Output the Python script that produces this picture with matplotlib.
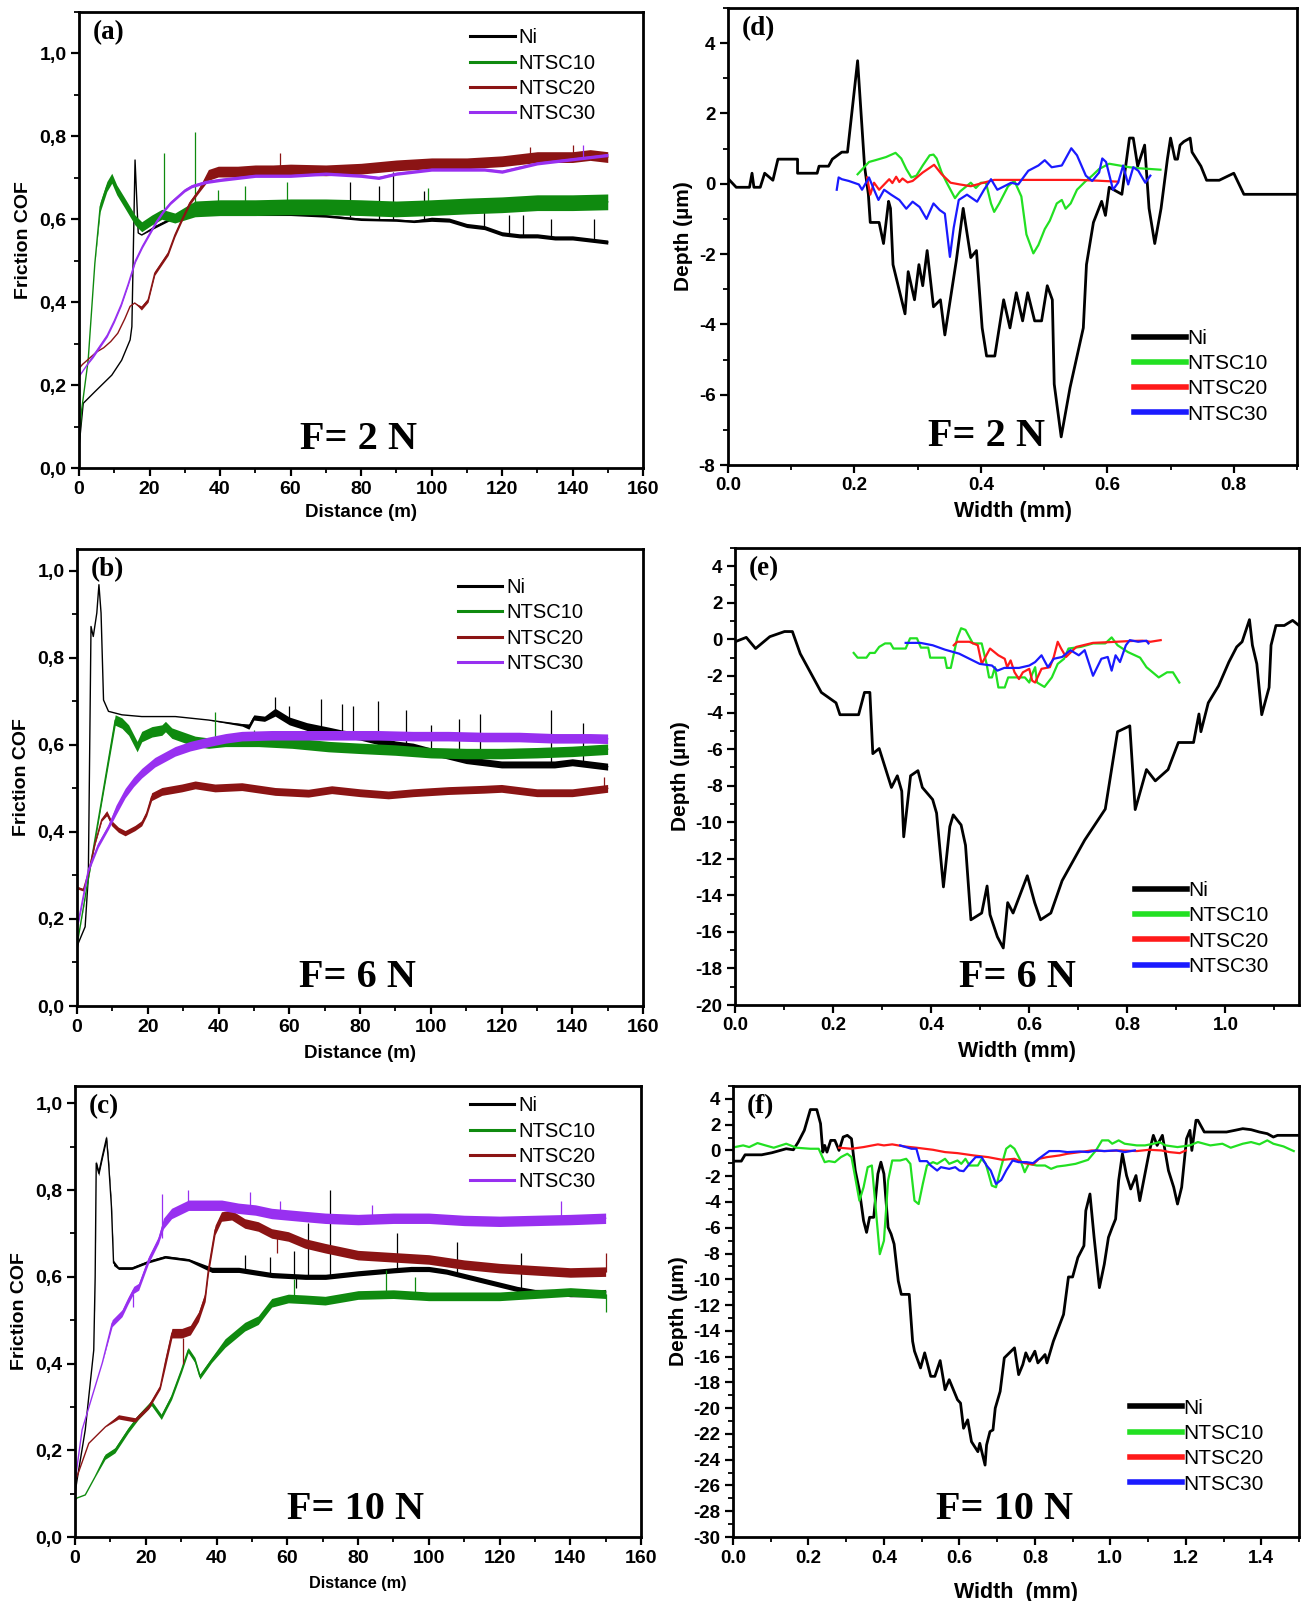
import numpy as np
import matplotlib
matplotlib.use("Agg")
import matplotlib.pyplot as plt
from matplotlib.ticker import MultipleLocator, FuncFormatter
from matplotlib.lines import Line2D

# ---------------------------------------------------------------- data
LABELS = ["Ni", "NTSC10", "NTSC20", "NTSC30"]

# ---- panel (a)  F = 2 N   (distance m, COF)
a_ni_x = [0, 1.2, 4.5, 9.3, 12.1, 14.5, 15.0, 15.9, 16.8, 17.8, 21.6, 27.2, 32.9, 40, 50, 60, 70, 80, 90, 95,
          100, 105, 110, 115, 120, 125, 130, 135, 140, 145, 150]
a_ni_y = [0.05, 0.156, 0.184, 0.224, 0.26, 0.309, 0.341, 0.743, 0.567, 0.562, 0.582, 0.606, 0.612, 0.612, 0.612,
          0.612, 0.608, 0.6, 0.598, 0.595, 0.6, 0.598, 0.585, 0.58, 0.565, 0.56, 0.56, 0.555, 0.555, 0.55, 0.545]
a_ni_noise = [(0, 0.0), (20, 0.003), (100, 0.005)]
a_ni_spk = ([47, 77, 85, 89, 98, 115, 122, 126, 134, 146],
            [0.612, 0.605, 0.6, 0.6, 0.6, 0.58, 0.565, 0.56, 0.558, 0.552],
            [0.645, 0.69, 0.68, 0.715, 0.668, 0.62, 0.61, 0.61, 0.6, 0.6])

a_10_x = [0, 0.75, 2.6, 4.5, 6, 7.9, 9.3, 10.7, 13, 15.9, 17.8, 20.6, 23.5, 27.2, 32.9, 40, 50, 60, 70, 80,
          90, 100, 110, 120, 130, 140, 150]
a_10_y = [0.06, 0.14, 0.26, 0.494, 0.63, 0.679, 0.699, 0.671, 0.639, 0.598, 0.582, 0.598, 0.612, 0.603, 0.625,
          0.628, 0.628, 0.63, 0.63, 0.628, 0.625, 0.628, 0.632, 0.635, 0.64, 0.64, 0.642]
a_10_noise = [(0, 0.0), (6, 0.012), (30, 0.019)]
a_10_spk = ([24, 33, 39.5, 47, 59, 99],
            [0.61, 0.62, 0.628, 0.628, 0.63, 0.63],
            [0.76, 0.81, 0.67, 0.68, 0.69, 0.675])

a_20_x = [0, 1, 3, 5, 7, 9, 11, 13, 14.5, 15.8, 17.7, 19.6, 21.5, 23.4, 25.3, 27.2, 29.1, 31.4, 33.8, 36.7,
          39.5, 45, 50, 55, 60, 70, 80, 90, 100, 110, 120, 130, 140, 145, 150]
a_20_y = [0.24, 0.25, 0.265, 0.28, 0.29, 0.305, 0.325, 0.36, 0.39, 0.398, 0.386, 0.405, 0.47, 0.494, 0.518,
          0.562, 0.598, 0.639, 0.667, 0.707, 0.715, 0.715, 0.718, 0.718, 0.72, 0.718, 0.722, 0.73, 0.735, 0.735,
          0.74, 0.75, 0.75, 0.755, 0.75]
a_20_noise = [(0, 0.0), (16, 0.005), (36, 0.013)]
a_20_spk = ([57, 128, 140], [0.72, 0.745, 0.75], [0.76, 0.775, 0.78])

a_30_x = [0, 2, 4, 6, 8, 10, 12, 14, 16, 18, 20, 22, 24, 26, 28, 30, 32, 34, 36, 40,
          45, 50, 60, 70, 80, 85, 90, 95, 100, 110, 115, 120, 125, 130, 135, 140, 145, 150]
a_30_y = [0.22, 0.245, 0.27, 0.295, 0.32, 0.355, 0.395, 0.445, 0.5, 0.535, 0.565, 0.595, 0.62, 0.64, 0.655,
          0.67, 0.68, 0.685, 0.69, 0.695, 0.7, 0.705, 0.705, 0.71, 0.705, 0.7, 0.71, 0.715, 0.72, 0.72,
          0.72, 0.715, 0.725, 0.735, 0.74, 0.745, 0.75, 0.755]
a_30_noise = [(0, 0.0), (4, 0.004)]
a_30_spk = ([143], [0.745], [0.78])

# ---- panel (b)  F = 6 N
b_ni_x = [0, 0.4, 2.3, 3.2, 3.96, 4.6, 5.6, 6.2, 6.8, 7.5, 8.9, 12.7, 18.3, 27.8, 37.2, 46.7, 48.6, 50, 53, 56,
          60, 65, 71, 75, 80, 85, 90, 95, 100, 105, 110, 115, 120, 125, 130, 135, 140, 145, 150]
b_ni_y = [0.13, 0.145, 0.182, 0.297, 0.872, 0.849, 0.903, 0.968, 0.903, 0.703, 0.677, 0.669, 0.665, 0.665, 0.657,
          0.646, 0.642, 0.663, 0.66, 0.675, 0.655, 0.642, 0.632, 0.625, 0.62, 0.61, 0.6, 0.595, 0.585, 0.575,
          0.565, 0.56, 0.555, 0.555, 0.555, 0.555, 0.56, 0.555, 0.55]
b_ni_noise = [(0, 0.0), (40, 0.003), (48, 0.006), (55, 0.009), (100, 0.008)]
b_ni_spk = ([56, 60, 69, 75, 78, 85, 93, 100, 108, 114, 134, 143],
            [0.67, 0.65, 0.63, 0.62, 0.62, 0.6, 0.6, 0.585, 0.57, 0.56, 0.555, 0.56],
            [0.71, 0.69, 0.705, 0.695, 0.69, 0.7, 0.68, 0.645, 0.66, 0.67, 0.68, 0.65])

b_10_x = [0, 0.4, 10.8, 12.7, 14.6, 17, 18.3, 21.2, 24, 25, 26.8, 30.6, 33.4, 37.2, 41.9, 51.3, 60.8, 71.1, 80,
          90, 100, 110, 120, 130, 140, 150]
b_10_y = [0.14, 0.159, 0.657, 0.65, 0.634, 0.596, 0.619, 0.63, 0.634, 0.642, 0.627, 0.616, 0.608, 0.604, 0.608,
          0.608, 0.604, 0.596, 0.592, 0.588, 0.582, 0.58, 0.58, 0.582, 0.585, 0.59]
b_10_noise = [(0, 0.0), (10.8, 0.012)]
b_10_spk = ([39, 50], [0.604, 0.608], [0.675, 0.635])

b_20_x = [0, 0.4, 1.8, 3.2, 5.1, 7, 8.4, 9.8, 11.7, 13.6, 16.4, 18.3, 19.7, 21.1, 24, 29.6, 33.4, 39, 46.6, 56,
          65.4, 72, 80, 88, 95, 105, 115, 120, 130, 140, 150]
b_20_y = [0.27, 0.271, 0.267, 0.305, 0.374, 0.428, 0.443, 0.42, 0.405, 0.397, 0.409, 0.42, 0.443, 0.481, 0.493,
          0.501, 0.508, 0.501, 0.504, 0.493, 0.489, 0.497, 0.49, 0.485, 0.49, 0.495, 0.498, 0.5, 0.49, 0.49, 0.5]
b_20_noise = [(0, 0.003), (8, 0.006), (20, 0.009)]
b_20_spk = ([149], [0.5], [0.525])

b_30_x = [0, 1, 3.2, 6, 8.9, 11, 13.6, 16, 18.3, 22, 27.7, 32, 37.2, 42, 46.6, 55, 65, 75, 85, 95,
          105, 115, 125, 135, 145, 150]
b_30_y = [0.18, 0.22, 0.313, 0.37, 0.412, 0.45, 0.489, 0.515, 0.535, 0.56, 0.585, 0.597, 0.607, 0.615, 0.62,
          0.622, 0.622, 0.622, 0.622, 0.62, 0.62, 0.618, 0.618, 0.615, 0.615, 0.614]
b_30_noise = [(0, 0.006), (10, 0.011)]
b_30_spk = ([], [], [])

# ---- panel (c)  F = 10 N
c_ni_x = [0, 0.57, 2.9, 5.3, 5.7, 6.0, 6.7, 7.7, 8.9, 9.5, 10.3, 10.9, 12.3, 16.1, 20.8, 25.5, 32.1, 38.7, 46.3,
          55.7, 65.1, 70.8, 80, 90, 95, 100, 105, 110, 115, 120, 125, 130, 135, 140, 145, 150]
c_ni_y = [0.1, 0.131, 0.247, 0.431, 0.6, 0.862, 0.839, 0.877, 0.92, 0.862, 0.762, 0.632, 0.62, 0.62, 0.635,
          0.646, 0.639, 0.616, 0.616, 0.604, 0.6, 0.6, 0.608, 0.615, 0.618, 0.618, 0.612, 0.602, 0.592, 0.582,
          0.572, 0.565, 0.565, 0.56, 0.56, 0.565]
c_ni_noise = [(0, 0.0), (5.7, 0.006), (11, 0.003), (35, 0.006)]
c_ni_spk = ([48, 55, 62, 62.5, 66, 72, 91, 108, 126],
            [0.618, 0.605, 0.6, 0.6, 0.6, 0.6, 0.615, 0.605, 0.575],
            [0.65, 0.645, 0.66, 0.575, 0.725, 0.8, 0.7, 0.68, 0.655])

c_10_x = [0, 0.6, 2.9, 5.7, 8.5, 11.3, 15.1, 17.9, 21.6, 24.4, 27.3, 30.1, 32, 33.9, 35.3, 38.6, 42.4, 48, 51.8,
          55.6, 60.3, 65, 70.7, 80, 90, 100, 110, 120, 130, 140, 150]
c_10_y = [0.085, 0.09, 0.097, 0.139, 0.185, 0.2, 0.247, 0.277, 0.309, 0.277, 0.323, 0.385, 0.431, 0.408, 0.37,
          0.408, 0.447, 0.485, 0.5, 0.54, 0.55, 0.548, 0.545, 0.558, 0.56, 0.555, 0.555, 0.555, 0.56, 0.565, 0.56]
c_10_noise = [(0, 0.0), (7, 0.006), (40, 0.01)]
c_10_spk = ([62, 88, 96, 150], [0.55, 0.56, 0.555, 0.56], [0.595, 0.615, 0.6, 0.52])

c_20_x = [0, 0.2, 3.9, 8.6, 12.3, 17, 20.8, 24.1, 25.5, 27.4, 30.2, 32.6, 34.9, 36.8, 37.7, 39.6, 41.4, 44.3, 48,
          51.8, 55.6, 60.3, 65, 70.7, 80, 90, 100, 110, 120, 130, 140, 150]
c_20_y = [0.12, 0.131, 0.216, 0.254, 0.277, 0.27, 0.3, 0.346, 0.401, 0.47, 0.47, 0.477, 0.508, 0.554, 0.616,
          0.708, 0.739, 0.742, 0.723, 0.716, 0.7, 0.693, 0.677, 0.666, 0.65, 0.645, 0.64, 0.628, 0.62, 0.615,
          0.61, 0.612]
c_20_noise = [(0, 0.0), (12, 0.005), (25, 0.011)]
c_20_spk = ([30.5, 57, 150], [0.46, 0.7, 0.61], [0.4, 0.655, 0.655])

c_30_x = [0, 0.2, 2.0, 4.8, 7.7, 10.5, 13.3, 15, 16.6, 18, 20.8, 23.6, 25, 27.3, 32.1, 36.8, 41.5, 46.2, 51, 55.6,
          65, 70.7, 80, 90, 100, 110, 120, 130, 140, 150]
c_30_y = [0.13, 0.139, 0.247, 0.323, 0.401, 0.493, 0.516, 0.545, 0.57, 0.577, 0.639, 0.685, 0.723, 0.746, 0.765,
          0.765, 0.765, 0.758, 0.754, 0.746, 0.739, 0.735, 0.732, 0.735, 0.735, 0.73, 0.728, 0.73, 0.732, 0.735]
c_30_noise = [(0, 0.0), (10, 0.008), (25, 0.012)]
c_30_spk = ([16.5, 24.5, 32, 49.5, 58, 84, 137.5],
            [0.56, 0.69, 0.765, 0.755, 0.745, 0.735, 0.73],
            [0.53, 0.79, 0.8, 0.795, 0.775, 0.765, 0.775])

# ---- panel (d)  F = 2 N   (width mm, depth um)
d_ni_x = [0, 0.013, 0.034, 0.038, 0.041, 0.051, 0.058, 0.071, 0.079, 0.110, 0.110, 0.141, 0.144, 0.159, 0.165,
          0.180, 0.189, 0.205, 0.216, 0.222, 0.225, 0.239, 0.246, 0.254, 0.257, 0.261, 0.280, 0.285, 0.295, 0.302,
          0.308, 0.315, 0.325, 0.336, 0.343, 0.361, 0.372, 0.384, 0.393, 0.402, 0.409, 0.422, 0.436, 0.446, 0.456,
          0.466, 0.474, 0.485, 0.496, 0.505, 0.513, 0.516, 0.527, 0.541, 0.562, 0.567, 0.578, 0.591, 0.597, 0.603,
          0.623, 0.635, 0.641, 0.648, 0.659, 0.666, 0.675, 0.685, 0.695, 0.700, 0.707, 0.711, 0.715, 0.721, 0.731,
          0.734, 0.748, 0.757, 0.777, 0.800, 0.816, 0.9]
d_ni_y = [0.15, -0.1, -0.1, 0.3, -0.1, -0.1, 0.3, 0.1, 0.7, 0.7, 0.3, 0.3, 0.5, 0.5, 0.7,
          0.9, 0.9, 3.5, 0.5, -0.3, -1.1, -1.1, -1.7, -0.5, -0.7, -2.3, -3.7, -2.5, -3.3, -2.3,
          -2.9, -1.9, -3.5, -3.3, -4.3, -2.2, -0.7, -2.1, -1.9, -4.1, -4.9, -4.9, -3.3, -4.1, -3.1,
          -3.9, -3.1, -3.9, -3.9, -2.9, -3.3, -5.7, -7.2, -5.8, -4.1, -2.3, -1.1, -0.5, -0.9, -0.1,
          -0.3, 1.3, 1.3, 0.5, 1.1, -0.7, -1.7, -0.7, 0.7, 1.3, 0.7, 0.7, 1.1, 1.2, 1.3,
          0.9, 0.5, 0.1, 0.1, 0.3, -0.3, -0.3]
d_10_x = [0.205, 0.223, 0.233, 0.250, 0.265, 0.274, 0.282, 0.290, 0.298, 0.308, 0.319, 0.325, 0.330, 0.338, 0.346,
          0.359, 0.367, 0.384, 0.392, 0.400, 0.408, 0.416, 0.421, 0.429, 0.443, 0.453, 0.464, 0.472, 0.483, 0.491,
          0.501, 0.509, 0.520, 0.528, 0.534, 0.542, 0.552, 0.566, 0.576, 0.587, 0.603, 0.619, 0.635, 0.651, 0.668,
          0.684]
d_10_y = [0.27, 0.62, 0.67, 0.76, 0.88, 0.72, 0.42, 0.18, 0.23, 0.52, 0.81, 0.83, 0.72, 0.32, 0.03,
          -0.41, -0.22, 0.03, -0.12, 0.03, 0.03, -0.56, -0.8, -0.56, -0.07, 0.08, -0.36, -1.44, -1.98, -1.74,
          -1.29, -1.05, -0.56, -0.46, -0.71, -0.56, -0.17, 0.08, 0.23, 0.42, 0.57, 0.52, 0.47, 0.44, 0.42,
          0.40]
d_20_x = [0.220, 0.225, 0.231, 0.239, 0.247, 0.255, 0.260, 0.266, 0.271, 0.276, 0.284, 0.292, 0.308, 0.326, 0.338,
          0.352, 0.367, 0.384, 0.400, 0.421, 0.448, 0.475, 0.501, 0.528, 0.555, 0.582, 0.617]
d_20_y = [0.18, -0.31, 0.03, -0.17, -0.02, 0.13, 0.02, 0.2, 0.05, 0.15, 0.04, 0.08, 0.32, 0.54, 0.27,
          0.03, -0.02, -0.07, 0.01, 0.11, 0.11, 0.11, 0.11, 0.11, 0.11, 0.09, 0.06]
d_30_x = [0.172, 0.175, 0.180, 0.191, 0.207, 0.212, 0.223, 0.231, 0.238, 0.247, 0.258, 0.271, 0.282, 0.292, 0.303,
          0.314, 0.325, 0.335, 0.343, 0.351, 0.357, 0.365, 0.378, 0.394, 0.405, 0.416, 0.426, 0.437, 0.448, 0.459,
          0.475, 0.491, 0.501, 0.512, 0.528, 0.543, 0.552, 0.566, 0.576, 0.587, 0.592, 0.598, 0.609, 0.617, 0.625,
          0.633, 0.641, 0.649, 0.660, 0.668]
d_30_y = [-0.17, 0.18, 0.13, 0.08, -0.02, -0.17, 0.18, -0.17, -0.46, -0.17, -0.31, -0.46, -0.71, -0.51, -0.66,
          -1.0, -0.56, -0.75, -0.85, -2.08, -1.25, -0.46, -0.31, -0.51, -0.17, 0.13, -0.17, -0.07, 0.03, -0.02,
          0.37, 0.52, 0.67, 0.47, 0.52, 1.01, 0.81, 0.23, 0.08, 0.32, 0.72, 0.62, -0.17, 0.03, 0.52,
          -0.02, 0.47, 0.37, 0.03, 0.23]

# ---- panel (e)  F = 6 N
e_ni_x = [0, 0.023, 0.042, 0.071, 0.101, 0.117, 0.133, 0.176, 0.206, 0.214, 0.252, 0.264, 0.275, 0.281, 0.294,
          0.319, 0.331, 0.340, 0.344, 0.358, 0.373, 0.382, 0.403, 0.411, 0.425, 0.438, 0.445, 0.461, 0.470, 0.481,
          0.503, 0.514, 0.520, 0.535, 0.547, 0.556, 0.567, 0.596, 0.611, 0.623, 0.644, 0.667, 0.713, 0.755, 0.780,
          0.805, 0.816, 0.839, 0.857, 0.883, 0.904, 0.935, 0.946, 0.950, 0.965, 0.986, 1.007, 1.023, 1.034, 1.049,
          1.055, 1.064, 1.074, 1.089, 1.093, 1.103, 1.120, 1.137, 1.150]
e_ni_y = [-0.13, 0.11, -0.5, 0.15, 0.43, 0.43, -0.78, -2.9, -3.47, -4.12, -4.12, -2.9, -2.9, -6.25, -5.97,
          -8.1, -7.46, -8.3, -10.8, -7.46, -7.18, -8.1, -8.76, -9.5, -13.54, -10.24, -9.6, -10.15, -11.26, -15.34,
          -14.97, -13.49, -15.06, -16.27, -16.88, -14.4, -14.97, -12.93, -14.4, -15.34, -14.97, -13.2, -10.98, -9.28,
          -5.05, -4.73, -9.31, -7.12, -7.74, -7.12, -5.64, -5.64, -4.08, -5.05, -3.47, -2.54, -1.24, -0.41, -0.13,
          1.08, -0.32, -1.34, -4.12, -2.63, -0.32, 0.76, 0.76, 1.04, 0.76]
e_10_x = [0.242, 0.250, 0.268, 0.275, 0.285, 0.294, 0.306, 0.317, 0.323, 0.348, 0.357, 0.371, 0.379, 0.394, 0.398,
          0.428, 0.432, 0.440, 0.453, 0.461, 0.470, 0.485, 0.503, 0.513, 0.518, 0.524, 0.530, 0.537, 0.550, 0.557,
          0.591, 0.600, 0.606, 0.612, 0.616, 0.631, 0.646, 0.658, 0.671, 0.680, 0.705, 0.730, 0.755, 0.768, 0.780,
          0.801, 0.826, 0.839, 0.864, 0.881, 0.893, 0.906]
e_10_y = [-0.74, -1.0, -1.0, -0.74, -0.74, -0.41, -0.22, -0.22, -0.5, -0.5, 0.06, 0.06, -0.45, -0.45, -1.0,
          -1.0, -1.56, -1.56, 0.06, 0.61, 0.52, -0.22, -0.22, -1.34, -2.08, -2.08, -1.52, -2.63, -2.63, -2.08,
          -2.08, -2.36, -1.89, -1.52, -2.36, -2.6, -2.08, -1.34, -1.06, -0.5, -0.41, -0.22, -0.22, 0.11, -0.32,
          -0.69, -1.0, -1.52, -2.08, -1.8, -1.8, -2.36]
e_20_x = [0.446, 0.453, 0.478, 0.495, 0.503, 0.520, 0.537, 0.550, 0.555, 0.562, 0.570, 0.579, 0.587, 0.600, 0.606,
          0.612, 0.625, 0.642, 0.650, 0.658, 0.665, 0.675, 0.696, 0.730, 0.763, 0.805, 0.831, 0.847, 0.868]
e_20_y = [-0.32, -0.13, -0.13, -0.32, -1.34, -0.5, -0.87, -1.06, -1.52, -1.15, -1.8, -2.17, -1.8, -1.61, -2.26,
          -2.36, -1.61, -1.52, -0.96, -0.13, -0.5, -0.96, -0.41, -0.19, -0.15, -0.09, -0.07, -0.13, -0.04]
e_30_x = [0.348, 0.378, 0.403, 0.428, 0.457, 0.478, 0.499, 0.524, 0.535, 0.549, 0.579, 0.600, 0.612, 0.625, 0.638,
          0.650, 0.667, 0.684, 0.701, 0.713, 0.730, 0.747, 0.760, 0.768, 0.776, 0.785, 0.797, 0.805, 0.822, 0.839,
          0.843]
e_30_y = [-0.19, -0.19, -0.32, -0.56, -0.78, -1.06, -1.34, -1.43, -1.71, -1.56, -1.56, -1.43, -1.24, -0.87, -1.52,
          -1.06, -0.96, -0.59, -0.87, -0.59, -1.99, -1.06, -0.96, -1.71, -0.87, -1.24, -0.32, -0.04, -0.13, -0.07,
          -0.22]

# ---- panel (f)  F = 10 N
f_ni_x = [0, 0.022, 0.032, 0.076, 0.103, 0.119, 0.141, 0.160, 0.173, 0.189, 0.205, 0.222, 0.232, 0.238, 0.243,
          0.249, 0.259, 0.270, 0.281, 0.292, 0.303, 0.314, 0.324, 0.335, 0.346, 0.354, 0.362, 0.373, 0.384, 0.392,
          0.400, 0.411, 0.419, 0.427, 0.438, 0.446, 0.467, 0.476, 0.481, 0.497, 0.508, 0.524, 0.535, 0.549, 0.562,
          0.573, 0.595, 0.603, 0.611, 0.622, 0.632, 0.649, 0.654, 0.668, 0.672, 0.681, 0.689, 0.695, 0.708, 0.719,
          0.746, 0.757, 0.768, 0.776, 0.786, 0.800, 0.808, 0.827, 0.832, 0.849, 0.876, 0.889, 0.900, 0.914, 0.930,
          0.935, 0.946, 0.957, 0.971, 0.984, 0.995, 1.005, 1.014, 1.022, 1.032, 1.043, 1.054, 1.068, 1.078, 1.103,
          1.114, 1.124, 1.138, 1.154, 1.168, 1.178, 1.189, 1.202, 1.211, 1.216, 1.227, 1.232, 1.249, 1.265, 1.308,
          1.330, 1.351, 1.373, 1.395, 1.416, 1.432, 1.443, 1.5]
f_ni_y = [-0.83, -0.83, -0.34, -0.34, -0.18, -0.05, 0.13, 0.05, 0.65, 1.56, 3.17, 3.17, 2.08, -0.13, 0.39,
          -0.13, 0.78, 0.78, 0.0, 1.04, 1.17, 0.91, -1.56, -3.12, -5.45, -6.36, -5.19, -5.19, -1.82, -0.91,
          -1.82, -5.97, -6.49, -7.27, -10.13, -11.17, -11.17, -14.81, -15.58, -16.88, -15.71, -17.53, -17.53, -16.31,
          -18.57, -17.79, -19.35, -19.61, -21.56, -20.91, -22.6, -23.38, -22.73, -24.42, -22.86, -21.82, -21.69,
          -20.0, -18.7, -16.1, -15.32, -17.4, -16.62, -15.71, -16.36, -15.58, -16.49, -15.84, -16.49, -14.81,
          -12.73, -9.82, -9.82, -8.31, -7.4, -4.68, -3.38, -6.75, -10.65, -8.83, -6.75, -5.97, -5.32, -2.34,
          -0.26, -1.95, -2.99, -1.95, -3.9, -0.13, 1.17, 0.39, 1.17, -1.56, -2.86, -4.16, -2.86, 0.91, 1.56, 0.0,
          2.34, 2.34, 1.43, 1.43, 1.43, 1.56, 1.69, 1.61, 1.43, 1.3, 1.04, 1.17, 1.17]
f_10_x = [0.005, 0.027, 0.043, 0.065, 0.086, 0.108, 0.141, 0.168, 0.205, 0.227, 0.243, 0.254, 0.270, 0.286, 0.303,
          0.314, 0.327, 0.335, 0.346, 0.357, 0.368, 0.378, 0.389, 0.400, 0.411, 0.422, 0.443, 0.459, 0.470, 0.481,
          0.492, 0.503, 0.514, 0.530, 0.541, 0.562, 0.573, 0.595, 0.605, 0.616, 0.627, 0.649, 0.659, 0.670, 0.686,
          0.697, 0.708, 0.724, 0.735, 0.746, 0.762, 0.773, 0.784, 0.805, 0.827, 0.843, 0.859, 0.881, 0.908, 0.941,
          0.962, 0.978, 0.995, 1.005, 1.022, 1.038, 1.070, 1.092, 1.114, 1.130, 1.146, 1.178, 1.211, 1.232, 1.265,
          1.297, 1.319, 1.351, 1.373, 1.395, 1.416, 1.432, 1.459, 1.486]
f_10_y = [0.26, 0.39, 0.26, 0.57, 0.39, 0.21, 0.52, 0.21, 0.13, 0.13, -0.91, -0.83, -0.91, -0.52, -0.26,
          -0.52, -2.6, -3.9, -2.86, -1.3, -1.17, -4.42, -8.05, -7.01, -2.34, -0.78, -0.78, -0.65, -1.04, -3.9,
          -4.16, -2.6, -1.17, -0.91, -1.04, -0.65, -1.04, -0.78, -1.04, -0.65, -1.17, -1.17, -0.65, -1.04, -2.73,
          -2.86, -1.56, 0.13, 0.39, 0.13, -0.78, -1.69, -1.04, -1.17, -1.17, -1.43, -1.25, -1.17, -1.04, -0.73,
          0.0, 0.78, 0.78, 0.52, 0.78, 0.52, 0.39, 0.39, 0.52, 0.65, 0.39, 0.26, 0.39, 0.65, 0.39,
          0.52, 0.21, 0.52, 0.65, 0.47, 0.78, 0.52, 0.31, -0.05]
f_20_x = [0.281, 0.314, 0.346, 0.384, 0.400, 0.422, 0.454, 0.486, 0.530, 0.562, 0.595, 0.638, 0.676, 0.714, 0.746,
          0.773, 0.795, 0.811, 0.832, 0.865, 0.886, 0.919, 0.951, 0.984, 1.027, 1.070, 1.103, 1.135, 1.157, 1.184,
          1.200]
f_20_y = [0.21, 0.13, 0.26, 0.47, 0.39, 0.47, 0.31, 0.21, 0.05, -0.13, -0.21, -0.39, -0.52, -0.73, -0.65,
          -0.99, -1.09, -0.65, -0.52, -0.39, -0.26, -0.13, 0.0, -0.05, 0.0, -0.05, 0.05, 0.0, -0.13, -0.21, 0.0]
f_30_x = [0.443, 0.473, 0.486, 0.495, 0.514, 0.524, 0.541, 0.551, 0.573, 0.589, 0.600, 0.611, 0.627, 0.643, 0.659,
          0.672, 0.683, 0.697, 0.711, 0.724, 0.741, 0.757, 0.778, 0.795, 0.816, 0.838, 0.865, 0.886, 0.919, 0.941,
          0.962, 0.984, 1.016, 1.038, 1.065]
f_30_y = [0.39, 0.13, 0.13, -0.83, -0.83, -1.17, -1.56, -1.3, -1.43, -1.3, -1.56, -1.61, -1.04, -0.52, -0.52,
          -1.17, -1.56, -2.6, -2.29, -1.56, -0.78, -0.91, -0.91, -0.99, -0.52, -0.05, -0.05, -0.13, -0.08, -0.13,
          0.0, -0.05, 0.0, -0.13, 0.0]

# ---------------------------------------------------------------- style
COF_COLORS = ["#000000", "#0f8a0f", "#8b1414", "#9830f0"]
PRF_COLORS = ["#000000", "#22e022", "#ff1a1a", "#1a1aff"]
SANS = "Liberation Sans"
SERIF = "Liberation Serif"

fig = plt.figure(figsize=(13.02, 16.01), dpi=100)
W, H = 1302.0, 1601.0


def axes_px(left, top, right, bottom):
    return fig.add_axes([left / W, 1 - bottom / H, (right - left) / W, (bottom - top) / H])


def amp_of(x, noise):
    nb = np.array(noise, dtype=float)
    idx = np.searchsorted(nb[:, 0], np.asarray(x, float), side="right") - 1
    idx = np.clip(idx, 0, len(nb) - 1)
    return nb[idx, 1]


def style_axes(ax, xmaj, xmin, ymaj, ymin, xfmt, yfmt, fs):
    for s in ax.spines.values():
        s.set_linewidth(2.0)
    ax.xaxis.set_major_locator(MultipleLocator(xmaj))
    ax.xaxis.set_minor_locator(MultipleLocator(xmin))
    ax.yaxis.set_major_locator(MultipleLocator(ymaj))
    ax.yaxis.set_minor_locator(MultipleLocator(ymin))
    ax.xaxis.set_major_formatter(FuncFormatter(xfmt))
    ax.yaxis.set_major_formatter(FuncFormatter(yfmt))
    ax.tick_params(which="major", direction="out", length=6, width=1.6, labelsize=fs, pad=3)
    ax.tick_params(which="minor", direction="out", length=3.5, width=1.3)
    ax.tick_params(top=False, right=False, which="both")
    for lab in ax.get_xticklabels() + ax.get_yticklabels():
        lab.set_fontweight("bold")
        lab.set_fontfamily(SANS)


def cof_panel(ax, series, letter, force, xlabel_fs, xlabel_pad, leg_anchor):
    for (x, y, noise, spk), col, lab in zip(series, COF_COLORS, LABELS):
        x = np.asarray(x, float)
        y = np.asarray(y, float)
        amp = amp_of(x, noise)
        ax.fill_between(x, y - amp, y + amp, color=col, lw=0, zorder=2)
        ax.plot(x, y, color=col, lw=1.0, label=lab, zorder=2)
        if len(spk[0]):
            ax.vlines(spk[0], spk[1], spk[2], color=col, lw=0.9, zorder=2)
    ax.set_xlim(0, 160)
    style_axes(ax, 20, 10, 0.2, 0.1,
               lambda v, p: f"{v:.0f}",
               lambda v, p: f"{v:.1f}".replace(".", ","), 14)
    ax.set_xlabel("Distance (m)", fontsize=xlabel_fs, fontweight="bold", fontfamily=SANS, labelpad=xlabel_pad)
    ax.set_ylabel("Friction COF", fontsize=14, fontweight="bold", fontfamily=SANS, labelpad=5)
    handles = [Line2D([], [], color=c, lw=2.2) for c in COF_COLORS]
    ax.legend(handles, LABELS, loc="upper left", bbox_to_anchor=leg_anchor, frameon=False,
              prop={"family": SANS, "size": 14.5}, handlelength=2.2, handletextpad=0.2,
              labelspacing=0.31, borderaxespad=0, borderpad=0)
    ax.text(0.025, 0.955, letter, transform=ax.transAxes, fontsize=19.5, fontweight="bold",
            fontfamily=SERIF, va="center", ha="left")
    ax.text(0.495, 0.062, force, transform=ax.transAxes, fontsize=29, fontweight="bold",
            fontfamily=SERIF, va="center", ha="center")


def prof_panel(ax, series, letter, force, xlim, ylim, force_pos, leg_anchor, xlabel, xlabel_pad):
    for (x, y), col, lab in zip(series, PRF_COLORS, LABELS):
        ax.plot(x, y, color=col, lw=2.0 if col == "#000000" else 1.6, label=lab, zorder=2)
    ax.set_xlim(*xlim)
    ax.set_ylim(*ylim)
    style_axes(ax, 0.2, 0.1, 2, 1,
               lambda v, p: f"{v:.1f}",
               lambda v, p: f"{v:.0f}", 13.5)
    ax.set_xlabel(xlabel, fontsize=15.5, fontweight="bold", fontfamily=SANS, labelpad=xlabel_pad)
    ax.set_ylabel("Depth (\u00b5m)", fontsize=15, fontweight="bold", fontfamily=SANS, labelpad=4)
    handles = [Line2D([], [], color=c, lw=4.0) for c in PRF_COLORS]
    ax.legend(handles, LABELS, loc="upper left", bbox_to_anchor=leg_anchor, frameon=False,
              prop={"family": SANS, "size": 15}, handlelength=2.5, handletextpad=0.05,
              labelspacing=0.3, borderaxespad=0, borderpad=0)
    ax.text(0.025, 0.955, letter, transform=ax.transAxes, fontsize=19.5, fontweight="bold",
            fontfamily=SERIF, va="center", ha="left")
    ax.text(force_pos[0], force_pos[1], force, transform=ax.transAxes, fontsize=29, fontweight="bold",
            fontfamily=SERIF, va="center", ha="center")


# ---- left column
ax_a = axes_px(79, 12, 643, 468)
ax_a.set_ylim(0, 1.1)
cof_panel(ax_a, [(a_ni_x, a_ni_y, a_ni_noise, a_ni_spk), (a_10_x, a_10_y, a_10_noise, a_10_spk),
                 (a_20_x, a_20_y, a_20_noise, a_20_spk), (a_30_x, a_30_y, a_30_noise, a_30_spk)],
          "(a)", "F= 2 N", 13.5, 5, (0.694, 0.964))

ax_b = axes_px(77, 549, 643, 1006)
ax_b.set_ylim(0, 1.05)
cof_panel(ax_b, [(b_ni_x, b_ni_y, b_ni_noise, b_ni_spk), (b_10_x, b_10_y, b_10_noise, b_10_spk),
                 (b_20_x, b_20_y, b_20_noise, b_20_spk), (b_30_x, b_30_y, b_30_noise, b_30_spk)],
          "(b)", "F= 6 N", 13.5, 7, (0.673, 0.936))

ax_c = axes_px(75, 1086, 641, 1537)
ax_c.set_ylim(0, 1.04)
cof_panel(ax_c, [(c_ni_x, c_ni_y, c_ni_noise, c_ni_spk), (c_10_x, c_10_y, c_10_noise, c_10_spk),
                 (c_20_x, c_20_y, c_20_noise, c_20_spk), (c_30_x, c_30_y, c_30_noise, c_30_spk)],
          "(c)", "F= 10 N", 11.7, 7, (0.698, 0.977))

# ---- right column
ax_d = axes_px(728, 8, 1297, 465)
prof_panel(ax_d, [(d_ni_x, d_ni_y), (d_10_x, d_10_y), (d_20_x, d_20_y), (d_30_x, d_30_y)],
           "(d)", "F= 2 N", (0, 0.9), (-8, 5), (0.455, 0.063), (0.714, 0.298), "Width (mm)", 5)

ax_e = axes_px(735, 548, 1299, 1005)
prof_panel(ax_e, [(e_ni_x, e_ni_y), (e_10_x, e_10_y), (e_20_x, e_20_y), (e_30_x, e_30_y)],
           "(e)", "F= 6 N", (0, 1.15), (-20, 5), (0.5, 0.06), (0.709, 0.271), "Width (mm)", 5)

ax_f = axes_px(733, 1086, 1299, 1537)
prof_panel(ax_f, [(f_ni_x, f_ni_y), (f_10_x, f_10_y), (f_20_x, f_20_y), (f_30_x, f_30_y)],
           "(f)", "F= 10 N", (0, 1.5), (-30, 5), (0.48, 0.061), (0.702, 0.3065), "Width  (mm)", 11)

fig.savefig("out.png", dpi=100)
